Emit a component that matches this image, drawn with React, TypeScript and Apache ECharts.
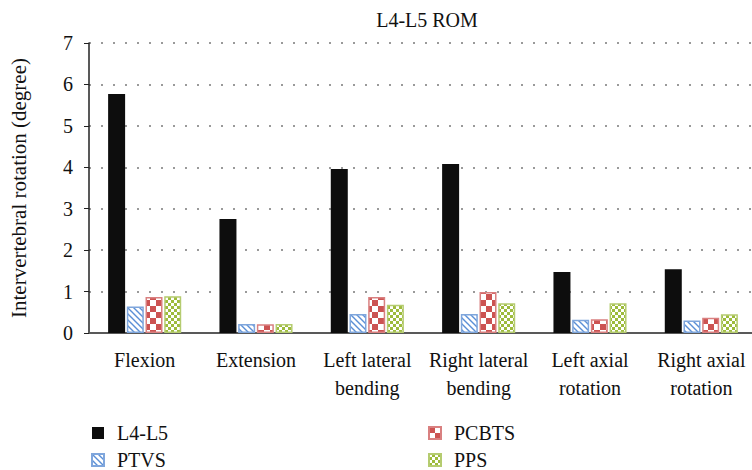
import React, { useEffect, useRef } from "react";
import * as echarts from "echarts";

const categories = [
  "Flexion",
  "Extension",
  "Left lateral\nbending",
  "Right lateral\nbending",
  "Left axial\nrotation",
  "Right axial\nrotation",
];
const seriesNames = ["L4-L5", "PTVS", "PCBTS", "PPS"];
const l4l5 = [5.77, 2.75, 3.96, 4.08, 1.47, 1.54];
const ptvs = [0.64, 0.22, 0.46, 0.46, 0.32, 0.3];
const pcbts = [0.87, 0.21, 0.87, 0.99, 0.33, 0.37];
const pps = [0.89, 0.22, 0.68, 0.72, 0.72, 0.45];
const yTicks = [0, 1, 2, 3, 4, 5, 6, 7];

const FONT = "'Liberation Serif', 'Times New Roman', serif";

function hatchPattern(): HTMLCanvasElement {
  const c = document.createElement("canvas");
  c.width = 6;
  c.height = 6;
  const g = c.getContext("2d")!;
  g.fillStyle = "#ffffff";
  g.fillRect(0, 0, 6, 6);
  g.strokeStyle = "#5b8fd6";
  g.lineWidth = 1.4;
  g.beginPath();
  g.moveTo(-1, -1);
  g.lineTo(7, 7);
  g.moveTo(-4, 2);
  g.lineTo(4, 10);
  g.moveTo(2, -4);
  g.lineTo(10, 4);
  g.stroke();
  return c;
}

function checkerPattern(size: number, color: string): HTMLCanvasElement {
  const c = document.createElement("canvas");
  c.width = size * 2;
  c.height = size * 2;
  const g = c.getContext("2d")!;
  g.fillStyle = "#ffffff";
  g.fillRect(0, 0, size * 2, size * 2);
  g.fillStyle = color;
  g.fillRect(0, 0, size, size);
  g.fillRect(size, size, size, size);
  return c;
}

function greenPattern(): HTMLCanvasElement {
  const c = document.createElement("canvas");
  c.width = 6;
  c.height = 6;
  const g = c.getContext("2d")!;
  g.fillStyle = "#9dbb3c";
  g.fillRect(0, 0, 6, 6);
  g.fillStyle = "#ffffff";
  g.fillRect(0, 0, 3, 3);
  g.fillRect(3, 3, 3, 3);
  return c;
}

function legendOpt(names: string[], left: number) {
  return {
    data: names,
    orient: "vertical",
    left,
    top: 423,
    height: 60,
    padding: 0,
    itemWidth: 20,
    itemHeight: 12,
    itemGap: 7,
    icon: "path://M0,0L12,0L12,12L0,12Z M20,6L20,6.01",
    textStyle: { fontFamily: FONT, fontSize: 20, color: "#111", lineHeight: 20 },
  };
}

export default function App() {
  const ref = useRef<HTMLDivElement>(null);
  useEffect(() => {
    if (!ref.current) return;
    const chart = echarts.init(ref.current, undefined, { renderer: "svg" });
    const fills: any[] = [
      "#0d0d0d",
      { image: hatchPattern(), repeat: "repeat" },
      { image: checkerPattern(6, "#cc5352"), repeat: "repeat" },
      { image: greenPattern(), repeat: "repeat" },
    ];
    const borders = ["#0d0d0d", "#7fa6dc", "#d98080", "#b5cc70"];
    const datas = [l4l5, ptvs, pcbts, pps];
    chart.setOption({
      animation: false,
      textStyle: { fontFamily: FONT },
      title: {
        text: "L4-L5 ROM",
        left: 422,
        textAlign: "center",
        top: 5,
        textStyle: { fontFamily: FONT, fontSize: 20, fontWeight: "normal", color: "#111" },
      },
      legend: [legendOpt(["L4-L5", "PTVS"], 91), legendOpt(["PCBTS", "PPS"], 428)],
      grid: {
        left: 89,
        top: 43,
        width: 668,
        height: 290,
        containLabel: false,
        outerBoundsMode: "none",
      },
      xAxis: {
        type: "category",
        data: categories,
        axisLine: { lineStyle: { color: "#595959", width: 2 } },
        axisTick: { alignWithLabel: true, length: 6, lineStyle: { color: "#333", width: 1.5 } },
        axisLabel: {
          fontFamily: FONT,
          fontSize: 20,
          color: "#111",
          lineHeight: 28,
          margin: 13,
          interval: 0,
        },
      },
      yAxis: {
        type: "value",
        min: 0,
        max: 7,
        interval: 1,
        name: "Intervertebral rotation (degree)",
        nameLocation: "middle",
        nameRotate: 90,
        nameGap: 60,
        nameTextStyle: { fontFamily: FONT, fontSize: 21, color: "#111" },
        axisLine: { show: true, lineStyle: { color: "#222", width: 1.5 } },
        axisTick: { show: true, length: 5, lineStyle: { color: "#222" } },
        axisLabel: {
          fontFamily: FONT,
          fontSize: 20,
          color: "#111",
          margin: 16,
          formatter: (v: number) => (yTicks.includes(v) ? String(v) : ""),
        },
        splitLine: {
          show: true,
          lineStyle: { color: "#9a9a9a", width: 2, type: [2, 10] },
        },
      },
      series: seriesNames.map((n, i) => ({
        name: n,
        type: "bar",
        data: datas[i],
        barWidth: 17,
        barGap: "10%",
        itemStyle: {
          color: fills[i],
          borderColor: borders[i],
          borderWidth: i === 0 ? 0 : 1.5,
        },
      })),
    });
    return () => chart.dispose();
  }, []);
  return <div ref={ref} style={{ width: 752, height: 470, position: "absolute", left: 0, top: 0 }} />;
}
